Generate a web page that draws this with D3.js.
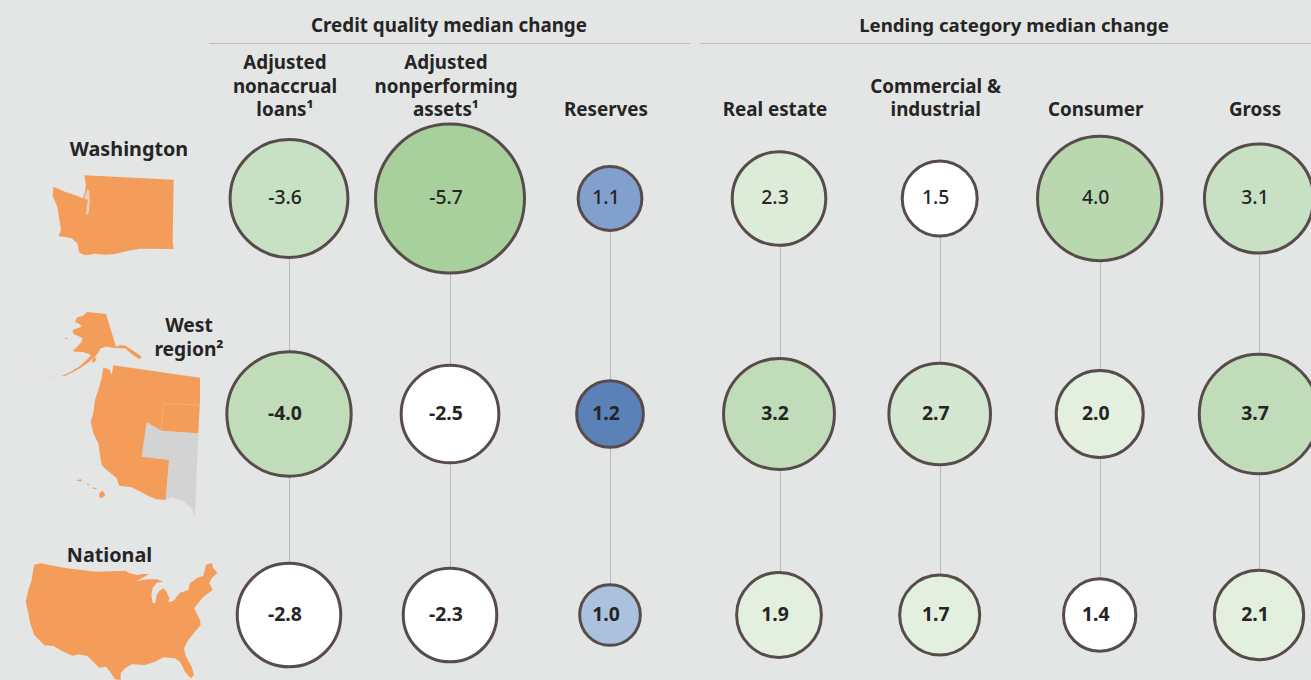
<!DOCTYPE html>
<html>
<head>
<meta charset="utf-8">
<script src="https://cdn.jsdelivr.net/npm/d3@7"></script>
<style>
  html, body { margin: 0; padding: 0; background: #e4e6e5; overflow: hidden; }
  text { font-family: "Noto Sans", "Open Sans", sans-serif; fill: #262526; }
</style>
</head>
<body>
<svg id="chart" width="1311" height="680"></svg>
<script>
// values, one array per column, rows are washington / west / national
const regions = ["Washington", "West region", "National"];
const nonaccrual = [-3.6, -4.0, -2.8];
const nonperforming = [-5.7, -2.5, -2.3];
const reserves = [1.1, 1.2, 1.0];
const realEstate = [2.3, 3.2, 1.9];
const commercial = [1.5, 2.7, 1.7];
const consumer = [4.0, 2.0, 1.4];
const gross = [3.1, 3.7, 2.1];

const columnGroup = ["credit", "credit", "reserves", "lending", "lending", "lending", "lending"];
const columnLabels = [
    ["Adjusted", "nonaccrual", "loans¹"],
    ["Adjusted", "nonperforming", "assets¹"],
    ["Reserves"],
    ["Real estate"],
    ["Commercial &", "industrial"],
    ["Consumer"],
    ["Gross"]
];
const columns = [nonaccrual, nonperforming, reserves, realEstate, commercial, consumer, gross];

// map outlines at 3x, drawn back at 1/3 scale
const washingtonShape = [[253,136],[521,149],[518,335],[521,357],[420,356],[385,362],[345,372],[315,374],[285,371],[255,376],[238,368],[232,340],[215,325],[176,318],[183,300],[178,268],[172,230],[158,198],[160,170],[195,185],[232,198],[248,205],[254,190],[258,165]];
const pugetSound = [[252,205],[262,178],[268,182],[270,215],[266,250],[258,256],[260,228],[264,210]];
const sanJuan = [[236,158],[246,156],[250,170],[240,173]];
const alaskaShape = [[262,546],[318,552],[348,650],[362,645],[378,648],[400,662],[425,680],[418,688],[395,672],[375,655],[350,655],[318,650],[302,655],[295,668],[285,680],[262,700],[240,715],[215,728],[195,738],[185,738],[210,727],[240,708],[272,678],[268,672],[245,665],[225,665],[218,662],[232,650],[245,635],[248,625],[235,618],[220,612],[218,600],[232,595],[245,590],[238,582],[225,575],[232,562],[248,558]];
const nunivak = [[193,622],[205,626],[198,628]];
const kodiak = [[280,685],[290,682],[285,695],[275,698]];
const aleutians = [[75,706],[100,725],[130,738],[160,742],[185,740]];
// these use the second crop, 270 lower
const westShape = [[340,-104],[600,-67],[600,0],[595,100],[485,92],[440,67],[425,170],[507,180],[497,300],[470,298],[450,290],[395,262],[358,257],[350,235],[335,222],[320,210],[305,195],[300,165],[295,130],[285,110],[280,100],[272,65],[280,40],[285,0],[295,-30],[305,-65],[310,-98],[330,-90],[335,-75]];
const greyShape = [[440,67],[485,92],[595,100],[585,350],[575,325],[545,300],[515,292],[497,300],[507,180],[425,170]];
const hawaiiA = [[228,241],[243,238],[245,245]];
const hawaiiB = [[262,250],[270,255],[262,255]];
const hawaiiC = [[278,262],[295,268],[280,267]];
const hawaiiD = [[298,278],[308,272],[316,285],[305,295],[298,292]];
const nationalShape = [[102,495],[122,490],[200,505],[290,515],[378,512],[385,518],[410,525],[430,522],[447,522],[425,535],[408,545],[425,540],[445,538],[470,538],[490,545],[470,548],[458,565],[454,585],[458,608],[466,610],[470,585],[478,572],[490,565],[500,575],[508,595],[505,607],[520,603],[540,578],[565,570],[570,550],[590,535],[610,527],[618,495],[635,488],[640,505],[652,518],[635,535],[628,548],[638,570],[610,590],[590,615],[583,625],[590,640],[600,660],[602,675],[585,695],[565,720],[552,745],[558,770],[575,800],[582,825],[572,835],[555,815],[540,785],[525,775],[490,772],[465,785],[435,795],[395,793],[375,805],[362,820],[362,840],[345,838],[330,815],[318,800],[298,803],[280,785],[262,768],[235,763],[218,767],[190,755],[160,738],[133,736],[115,718],[103,705],[92,675],[85,640],[77,605],[85,570],[95,540]];

const svg = d3.select("#chart");
const bg = "#e4e6e5", land = "#f49c5a";

const columnX = d3.scaleOrdinal().domain(d3.range(7)).range([289, 450, 610, 779, 939.7, 1099.7, 1259]);
const stemX = d3.scaleOrdinal().domain(d3.range(7)).range([289.5, 450.5, 610.5, 780.5, 940.5, 1100.5, 1259.5]);
const rowY = d3.scaleOrdinal().domain(regions).range([198.5, 414, 615]);
const radius = d3.scaleSqrt().domain([0, 5.7]).range([0, 76]); // outer edge of the ring
const ringWidth = 3;

const colors = {
    credit: d3.scaleThreshold().domain([3, 3.8, 5]).range(["#ffffff", "#c8e1c4", "#c0dcb9", "#a8d09d"]),
    reserves: d3.scaleThreshold().domain([1.05, 1.15]).range(["#abc2df", "#82a0cd", "#5b82b8"]),
    lending: d3.scaleThreshold().domain([1.6, 2.2, 2.5, 3.0, 3.15, 3.85])
        .range(["#ffffff", "#e3efdf", "#ddecd9", "#d3e6cf", "#c8e1c4", "#c0dcb8", "#b9d8b0"])
};

// maps
const line = d3.line().curve(d3.curveLinearClosed);
const upperMap = svg.append("g").attr("transform", "translate(0,130) scale(0.3333)");
const lowerMap = svg.append("g").attr("transform", "translate(0,400) scale(0.3333)");

lowerMap.append("path").attr("d", line(greyShape)).attr("fill", "#d3d3d3");
upperMap.selectAll(".land").data([washingtonShape, alaskaShape, nunivak, kodiak]).join("path")
    .attr("class", "land").attr("d", d => line(d)).attr("fill", land);
upperMap.selectAll(".water").data([pugetSound, sanJuan]).join("path")
    .attr("class", "water").attr("d", d => line(d)).attr("fill", bg).attr("opacity", 0.7);
upperMap.append("path").attr("d", d3.line()(aleutians))
    .attr("fill", "none").attr("stroke", land).attr("stroke-width", 1.6)
    .attr("stroke-dasharray", "3 6").attr("opacity", 0.6);
lowerMap.selectAll(".land").data([westShape, hawaiiA, hawaiiB, hawaiiC, hawaiiD, nationalShape]).join("path")
    .attr("class", "land").attr("d", d => line(d)).attr("fill", land);
lowerMap.append("path").attr("d", d3.line()([[598,15], [490,10], [485,92]]))
    .attr("fill", "none").attr("stroke", "#f7b584").attr("stroke-width", 2);

// headers
const titleSize = 18.8;
svg.append("text").attr("x", 449).attr("y", 32).attr("text-anchor", "middle")
    .attr("font-size", titleSize).attr("font-weight", 700).text("Credit quality median change");
svg.append("text").attr("x", 1014).attr("y", 32).attr("text-anchor", "middle")
    .attr("font-size", 18.65).attr("font-weight", 700).text("Lending category median change");
svg.selectAll(".rule").data([[209, 690], [700, 1311]]).join("line")
    .attr("class", "rule")
    .attr("x1", d => d[0]).attr("x2", d => d[1])
    .attr("y1", 43.5).attr("y2", 43.5)
    .attr("stroke", "#bcbcbc");

// column titles, bottom line always sits on the same baseline
columnLabels.forEach((lines, i) => {
    lines.forEach((t, j) => {
        svg.append("text")
            .attr("x", columnX(i) - 4)
            .attr("y", 116 - (lines.length - 1 - j) * 23.5)
            .attr("text-anchor", "middle")
            .attr("font-size", titleSize)
            .attr("font-weight", 700)
            .text(t);
    });
});

// region labels
const regionLabels = [
    { lines: ["Washington"], x: 129, y: 156, size: 19.8 },
    { lines: ["West", "region²"], x: 189, y: 332, size: 19.2 },
    { lines: ["National"], x: 109.5, y: 562, size: 19.8 }
];
regionLabels.forEach(r => {
    r.lines.forEach((t, j) => {
        svg.append("text").attr("x", r.x).attr("y", r.y + j * 24)
            .attr("text-anchor", "middle").attr("font-size", r.size).attr("font-weight", 700).text(t);
    });
});

// connecting lines go under the bubbles
svg.selectAll(".stem").data(columns).join("line")
    .attr("class", "stem")
    .attr("x1", (d, i) => stemX(i)).attr("x2", (d, i) => stemX(i))
    .attr("y1", rowY(regions[0])).attr("y2", rowY(regions[2]))
    .attr("stroke", "#b9bbba").attr("stroke-width", 1);

const cells = [];
columns.forEach((vals, c) => vals.forEach((v, r) => cells.push({ c: c, r: r, v: v })));

svg.selectAll(".bubble").data(cells).join("circle")
    .attr("class", "bubble")
    .attr("cx", d => columnX(d.c))
    .attr("cy", d => rowY(regions[d.r]))
    .attr("r", d => radius(Math.abs(d.v)) - ringWidth / 2)
    .attr("fill", d => colors[columnGroup[d.c]](Math.abs(d.v)))
    .attr("stroke", "#574c4b")
    .attr("stroke-width", ringWidth);

svg.selectAll(".val").data(cells).join("text")
    .attr("class", "val")
    .attr("x", d => columnX(d.c) - 4)
    .attr("y", d => rowY(regions[d.r]) + 5.5)
    .attr("text-anchor", "middle")
    .attr("font-size", 19.4)
    .attr("font-weight", d => d.r === 0 ? 500 : 700)
    .text(d => d.v.toFixed(1));
</script>
</body>
</html>
